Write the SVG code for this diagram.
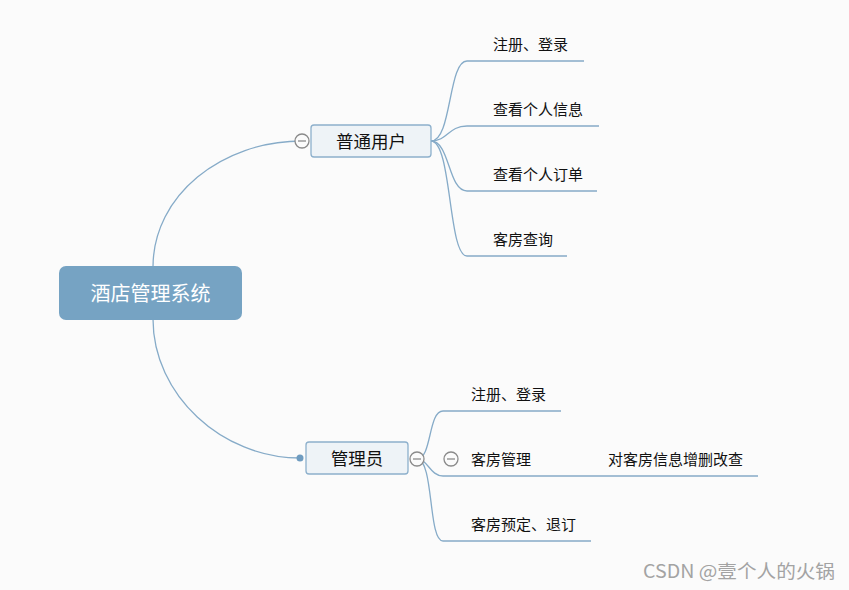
<svg xmlns="http://www.w3.org/2000/svg" width="849" height="590" viewBox="0 0 849 590">
<style>
.conn{fill:none;stroke:#86abc8;stroke-width:1.3}
.sub{fill:#eef3f7;stroke:#8db0cc;stroke-width:1.3}
.t{font-family:"Noto Sans CJK SC","Microsoft YaHei",sans-serif;fill:#111}
.c{font-size:15px}
.tog{fill:#fbfbfb;stroke:#8a8a8a;stroke-width:1.3}
.bar{stroke:#8a8a8a;stroke-width:1.3}
</style>
<rect width="849" height="590" fill="#fbfbfb"/>
<g id="connectors">
<path class="conn" d="M153,267 C153,195 222,141 302,141"/>
<path class="conn" d="M153,319 C153,395 222,458 300,458"/>
<path class="conn" d="M431,141 C452,141 448,61 467,61 L584,61"/>
<path class="conn" d="M431,141 C448,141 448,126 467,126 L599,126"/>
<path class="conn" d="M431,141 C450,141 448,191 467,191 L597,191"/>
<path class="conn" d="M431,141 C452,141 448,256 467,256 L567,256"/>
<path class="conn" d="M417,459 C432,459 428,411 443,411 L561,411"/>
<path class="conn" d="M417,459 C428,459 430,476 443,476 L758,476"/>
<path class="conn" d="M417,459 C434,459 428,541 443,541 L591,541"/>
<circle cx="300" cy="458" r="3.5" fill="#6f9cc0"/>
</g>
<g id="root">
<rect x="59" y="266" width="183" height="54" rx="7" fill="#76a3c3"/>
<text class="t" x="150.5" y="300.5" font-size="20" style="fill:#fff" text-anchor="middle">酒店管理系统</text>
</g>
<g id="user">
<rect class="sub" x="311" y="125" width="120" height="32" rx="3"/>
<text class="t" x="371" y="148" font-size="17.5" text-anchor="middle">普通用户</text>
<circle class="tog" cx="302" cy="141" r="7"/>
<line class="bar" x1="298" y1="141" x2="306" y2="141"/>
</g>
<g id="admin">
<rect class="sub" x="306" y="442" width="102" height="32" rx="3"/>
<text class="t" x="357" y="465" font-size="17.5" text-anchor="middle">管理员</text>
<circle class="tog" cx="417" cy="459" r="7"/>
<line class="bar" x1="413" y1="459" x2="421" y2="459"/>
</g>
<g id="u1"><text class="t c" x="493" y="50">注册、登录</text></g>
<g id="u2"><text class="t c" x="493" y="115">查看个人信息</text></g>
<g id="u3"><text class="t c" x="493" y="180">查看个人订单</text></g>
<g id="u4"><text class="t c" x="493" y="245">客房查询</text></g>
<g id="a1"><text class="t c" x="471" y="400">注册、登录</text></g>
<g id="a2">
<text class="t c" x="471" y="465">客房管理</text>
<circle class="tog" cx="451" cy="459" r="7"/>
<line class="bar" x1="447" y1="459" x2="455" y2="459"/>
</g>
<g id="a2-1"><text class="t c" x="608" y="465">对客房信息增删改查</text></g>
<g id="a3"><text class="t c" x="471" y="530">客房预定、退订</text></g>
<text x="643" y="578" font-family="'Noto Sans CJK SC','Liberation Sans',sans-serif" font-size="18.5" fill="#a3a3a3" textLength="192" lengthAdjust="spacingAndGlyphs">CSDN @壹个人的火锅</text>
</svg>
